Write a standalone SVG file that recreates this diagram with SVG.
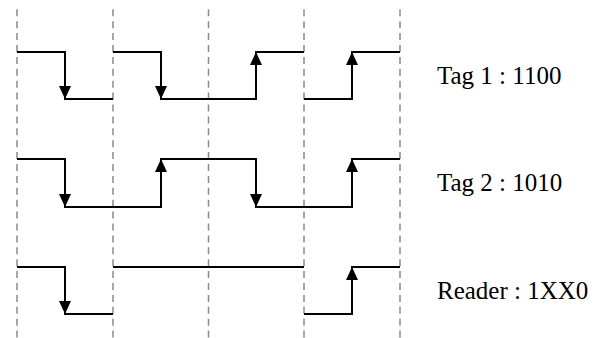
<svg xmlns="http://www.w3.org/2000/svg" xmlns:xlink="http://www.w3.org/1999/xlink" width="608" height="338" viewBox="0 0 608 338">
  <style>
    .grid { stroke: #8a8a8a; stroke-width: 1.5; stroke-dasharray: 7 4.9; fill: none; }
    .sig { stroke: #000; stroke-width: 2; fill: none; stroke-linejoin: miter; }
    .head { fill: #000; stroke: none; }
    .label { font-family: "Liberation Serif", "Times New Roman", serif; font-size: 25px; fill: #000; }
  </style>
  <defs>
    <!-- arrowheads with the tip at the origin -->
    <path id="down" class="head" d="M-6,-13 L6,-13 L0,0 Z"/>
    <path id="up" class="head" d="M-6,13 L6,13 L0,0 Z"/>
  </defs>
  <rect width="608" height="338" fill="#fff"/>

  <!-- bit boundaries -->
  <g id="grid">
    <line class="grid" x1="17" y1="9.3" x2="17" y2="338"/>
    <line class="grid" x1="113" y1="9.3" x2="113" y2="338"/>
    <line class="grid" x1="208.5" y1="9.3" x2="208.5" y2="338"/>
    <line class="grid" x1="304" y1="9.3" x2="304" y2="338"/>
    <line class="grid" x1="400" y1="9.3" x2="400" y2="338"/>
  </g>

  <!-- Tag 1 : 1100 -->
  <g id="tag1">
    <g id="tag1-wave">
      <path class="sig" d="M17,52 H65 V99 H113"/>
      <path class="sig" d="M113,52 H161 V99 H256 V52 H304"/>
      <path class="sig" d="M304,99 H352 V52 H400"/>
      <use xlink:href="#down" x="65" y="99"/>
      <use xlink:href="#down" x="161" y="99"/>
      <use xlink:href="#up" x="256" y="52"/>
      <use xlink:href="#up" x="352" y="52"/>
    </g>
    <text class="label" x="437" y="83.5">Tag 1 : 1100</text>
  </g>

  <!-- Tag 2 : 1010 -->
  <g id="tag2">
    <g id="tag2-wave">
      <path class="sig" d="M17,159 H65 V207 H161 V159 H256 V207 H352 V159 H400"/>
      <use xlink:href="#down" x="65" y="207"/>
      <use xlink:href="#up" x="161" y="159"/>
      <use xlink:href="#down" x="256" y="207"/>
      <use xlink:href="#up" x="352" y="159"/>
    </g>
    <text class="label" x="437" y="191">Tag 2 : 1010</text>
  </g>

  <!-- Reader : 1XX0 -->
  <g id="reader">
    <g id="reader-wave">
      <path class="sig" d="M17,267 H65 V314 H113"/>
      <path class="sig" d="M113,267 H304"/>
      <path class="sig" d="M304,314 H352 V267 H400"/>
      <use xlink:href="#down" x="65" y="314"/>
      <use xlink:href="#up" x="352" y="267"/>
    </g>
    <text class="label" x="437" y="298.5">Reader : 1XX0</text>
  </g>
</svg>
